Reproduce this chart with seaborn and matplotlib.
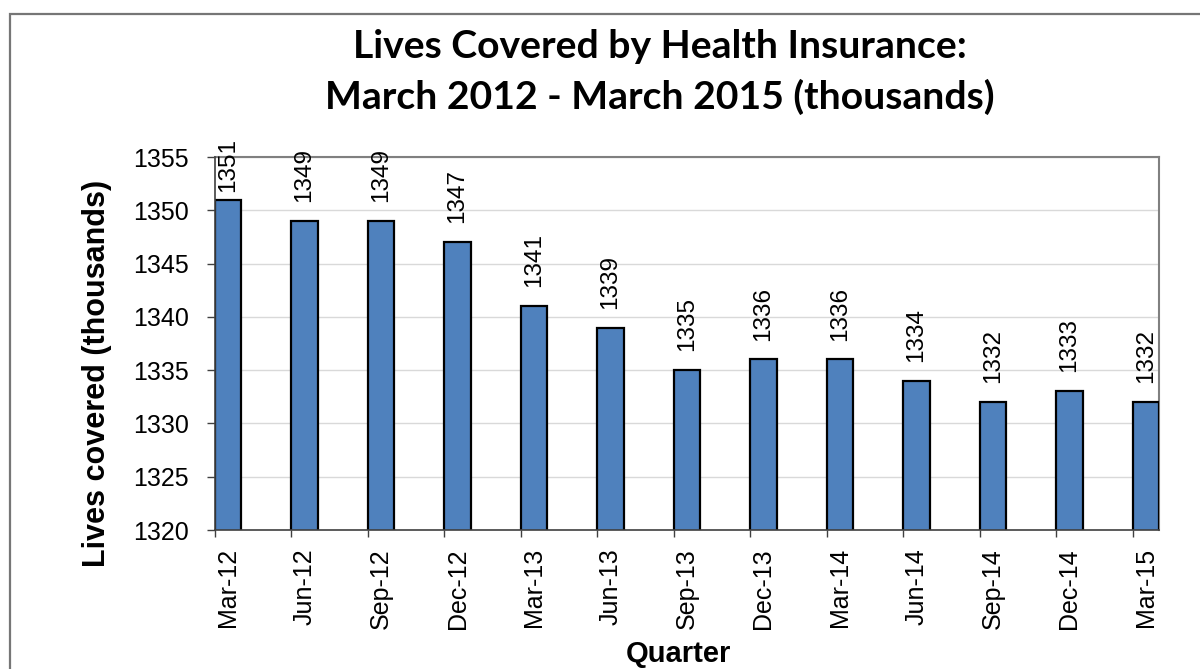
import matplotlib
matplotlib.use("Agg")
import matplotlib.pyplot as plt
import seaborn as sns
import pandas as pd
from matplotlib.patches import Rectangle

# ---- data ----
quarters = ["Mar-12", "Jun-12", "Sep-12", "Dec-12", "Mar-13", "Jun-13", "Sep-13",
            "Dec-13", "Mar-14", "Jun-14", "Sep-14", "Dec-14", "Mar-15"]
lives = [1351, 1349, 1349, 1347, 1341, 1339, 1335, 1336, 1336, 1334, 1332, 1333, 1332]
y_ticks = [1320, 1325, 1330, 1335, 1340, 1345, 1350, 1355]
title_line1 = "Lives Covered by Health Insurance:"
title_line2 = "March 2012 - March 2015 (thousands)"
x_label = "Quarter"
y_label = "Lives covered (thousands)"

df = pd.DataFrame({"quarter": quarters, "lives": lives})

sns.set_theme(style="white")
plt.rcParams["font.family"] = ["Liberation Sans", "DejaVu Sans"]

W, H = 1200, 669
fig = plt.figure(figsize=(W / 100, H / 100), dpi=100)
fig.patch.set_facecolor("white")

# outer chart border (extends past right / bottom edges)
fig.patches.append(Rectangle((10 / W, -0.1), 1.2, 1 - 14 / H + 0.1, transform=fig.transFigure,
                             fill=False, edgecolor="#767676", linewidth=1.6, zorder=0))

ax = fig.add_axes([215 / W, 1 - 530 / H, 944 / W, 373 / H])

BAR_W = 0.34
sns.barplot(data=df, x="quarter", y="lives", ax=ax, color="#4F81BD", width=BAR_W,
            edgecolor="black", linewidth=1.6, saturation=1, zorder=3)
for p in ax.patches:
    p.set_facecolor("#4F81BD")

ax.set_ylim(1320, 1355)
ax.set_xlim(-BAR_W / 2, len(quarters) - 1 + BAR_W / 2)
ax.set_yticks(y_ticks)
ax.set_yticklabels([str(t) for t in y_ticks])
ax.set_xticks(range(len(quarters)))
ax.set_xticklabels(quarters, rotation=90)
ax.set_xticks([i - BAR_W / 2 for i in range(len(quarters))], minor=True)

ax.tick_params(axis="x", which="major", length=0, pad=13, labelsize=18, colors="black")
ax.tick_params(axis="x", which="minor", length=5, width=1, color="#404040", direction="out", bottom=True)
ax.tick_params(axis="y", which="major", length=6, width=1, color="#404040", pad=13,
               labelsize=18, labelcolor="black", direction="out", left=True)

ax.grid(axis="y", color="#D9D9D9", linewidth=1, zorder=0)
ax.grid(axis="x", visible=False)
ax.set_axisbelow(True)

for s in ["top", "right"]:
    ax.spines[s].set_color("#808080")
    ax.spines[s].set_linewidth(1.5)
for s in ["left", "bottom"]:
    ax.spines[s].set_color("#404040")
    ax.spines[s].set_linewidth(1.2)
    ax.spines[s].set_zorder(5)

# value labels
LABEL_GAP = 1.78
LABEL_CEIL = 1351.72
for i, v in enumerate(lives):
    ax.text(i, min(v + LABEL_GAP, LABEL_CEIL), str(v), rotation=90, ha="center", va="bottom",
            fontsize=17.5, color="black", clip_on=False)

ax.set_xlabel(x_label, fontsize=21, fontweight="bold", va="baseline", color="black")
ax.xaxis.set_label_coords((678 - 215) / 944, (530 - 662) / 373)
ax.set_ylabel(y_label, fontsize=22, fontweight="bold", va="center", color="black")
ax.yaxis.set_label_coords((97 - 215) / 944, (530 - 373) / 373)

fig.text(660 / W, 1 - 58 / H, title_line1, ha="center", va="baseline", fontsize=28.2,
         fontweight="bold", family=["Lato", "DejaVu Sans"], color="black")
fig.text(660 / W, 1 - 109 / H, title_line2, ha="center", va="baseline", fontsize=28.2,
         fontweight="bold", family=["Lato", "DejaVu Sans"], color="black")

fig.savefig("out.png", dpi=100)
